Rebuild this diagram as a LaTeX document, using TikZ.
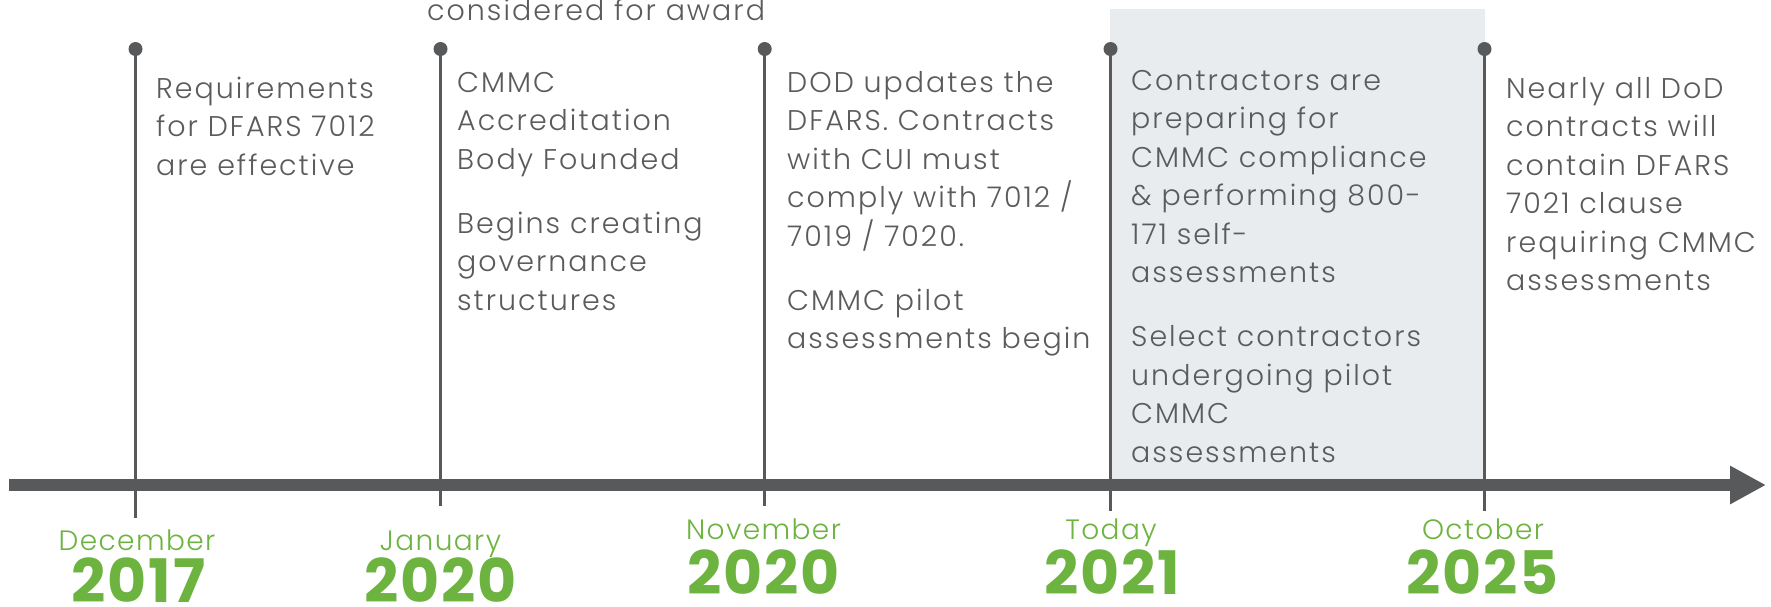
\documentclass[tikz,border=0pt]{standalone}
\usepackage{fontspec}
\usetikzlibrary{arrows.meta}
\IfFontExistsTF{Poppins Light}{%
  \setmainfont{Poppins Light}[LetterSpace=7]%
  \newfontfamily\monthface{Poppins Light}[LetterSpace=5]}{%
  \setmainfont{Poppins}[LetterSpace=7]%
  \newfontfamily\monthface{Poppins}[LetterSpace=5]}
\IfFontExistsTF{Poppins Bold}{\newfontfamily\yearface{Poppins Bold}[LetterSpace=3]}{\newfontfamily\yearface{Poppins}[UprightFont=*-Bold,LetterSpace=3]}

\definecolor{inkgray}{HTML}{5B5B5B}
\definecolor{axisgray}{HTML}{58595B}
\definecolor{leaf}{HTML}{6DB33F}
\definecolor{nowshade}{HTML}{E8ECEF}

% event description: first line sits on the node's baseline
\newcommand{\evtext}[1]{\parbox[t]{360pt}{\raggedright\fontsize{28.5}{38.5}\selectfont\setlength{\parskip}{25.5pt}#1}}

\begin{document}
\begin{tikzpicture}[x=1pt,y=-1pt,
  evt/.style={anchor=base west, inner sep=0pt, text=inkgray},
  monthlbl/.style={anchor=base, inner sep=0pt, text=leaf, font=\monthface\fontsize{28}{28}\selectfont},
  yearlbl/.style={anchor=base, inner sep=0pt, text=leaf, font=\yearface\fontsize{60}{60}\selectfont},
  stem/.style={draw=axisgray, line width=3.5pt},
  pin/.style={fill=axisgray},
  axisline/.style={draw=axisgray, line width=12pt, -{Triangle[length=36pt,width=36pt]}}]
\useasboundingbox (0,0) rectangle (1771,606);
\clip (0,0) rectangle (1771,606);

% shaded band for the current period
\fill[nowshade] (1110,9) rectangle (1485,485);

% event positions: top pin and lower end of each stem
\coordinate (p1) at (135.5,49);  \coordinate (b1) at (135.5,518);
\coordinate (p2) at (440.5,49);  \coordinate (b2) at (440.5,506);
\coordinate (p3) at (764.7,49);  \coordinate (b3) at (764.7,506);
\coordinate (p4) at (1110.5,49); \coordinate (b4) at (1110.5,511);
\coordinate (p5) at (1484.5,49); \coordinate (b5) at (1484.5,511);

\foreach \i in {1,...,5}{
  \draw[stem] (p\i) -- (b\i);
  \fill[pin] (p\i) circle (7pt);
}

% time axis
\coordinate (axL) at (9,485);
\coordinate (axR) at (1766,485);
\draw[axisline] (axL) -- (axR);

% event descriptions
\node[evt] (award) at (427,20) {\fontsize{28.5}{38.5}\selectfont considered for award};
\node[evt] (t1) at (156,98) {\evtext{Requirements\\for DFARS 7012\\are effective}};
\node[evt] (t2) at (457,92) {\evtext{CMMC\\Accreditation\\Body Founded\par Begins creating\\governance\\structures}};
\node[evt] (t3) at (787,92) {\evtext{DOD updates the\\DFARS. Contracts\\with CUI must\\comply with 7012 /\\7019 / 7020.\par CMMC pilot\\assessments begin}};
\node[evt] (t4) at (1131,90) {\evtext{Contractors are\\preparing for\\CMMC compliance\\\& performing 800-\\171 self-\\assessments\par Select contractors\\undergoing pilot\\CMMC\\assessments}};
\node[evt] (t5) at (1506,98) {\evtext{Nearly all DoD\\contracts will\\contain DFARS\\7021 clause\\requiring CMMC\\assessments}};

% dates
\node[monthlbl] (m1) at (137,550) {December};
\node[yearlbl]  (y1) at (138.5,602) {2017};
\node[monthlbl] (m2) at (440.5,550) {January};
\node[yearlbl]  (y2) at (440.5,602) {2020};
\node[monthlbl] (m3) at (763.5,539) {November};
\node[yearlbl]  (y3) at (763.5,594) {2020};
\node[monthlbl] (m4) at (1111,539) {Today};
\node[yearlbl]  (y4) at (1112,594) {2021};
\node[monthlbl] (m5) at (1483,539) {October};
\node[yearlbl]  (y5) at (1482.5,594) {2025};
\end{tikzpicture}
\end{document}
